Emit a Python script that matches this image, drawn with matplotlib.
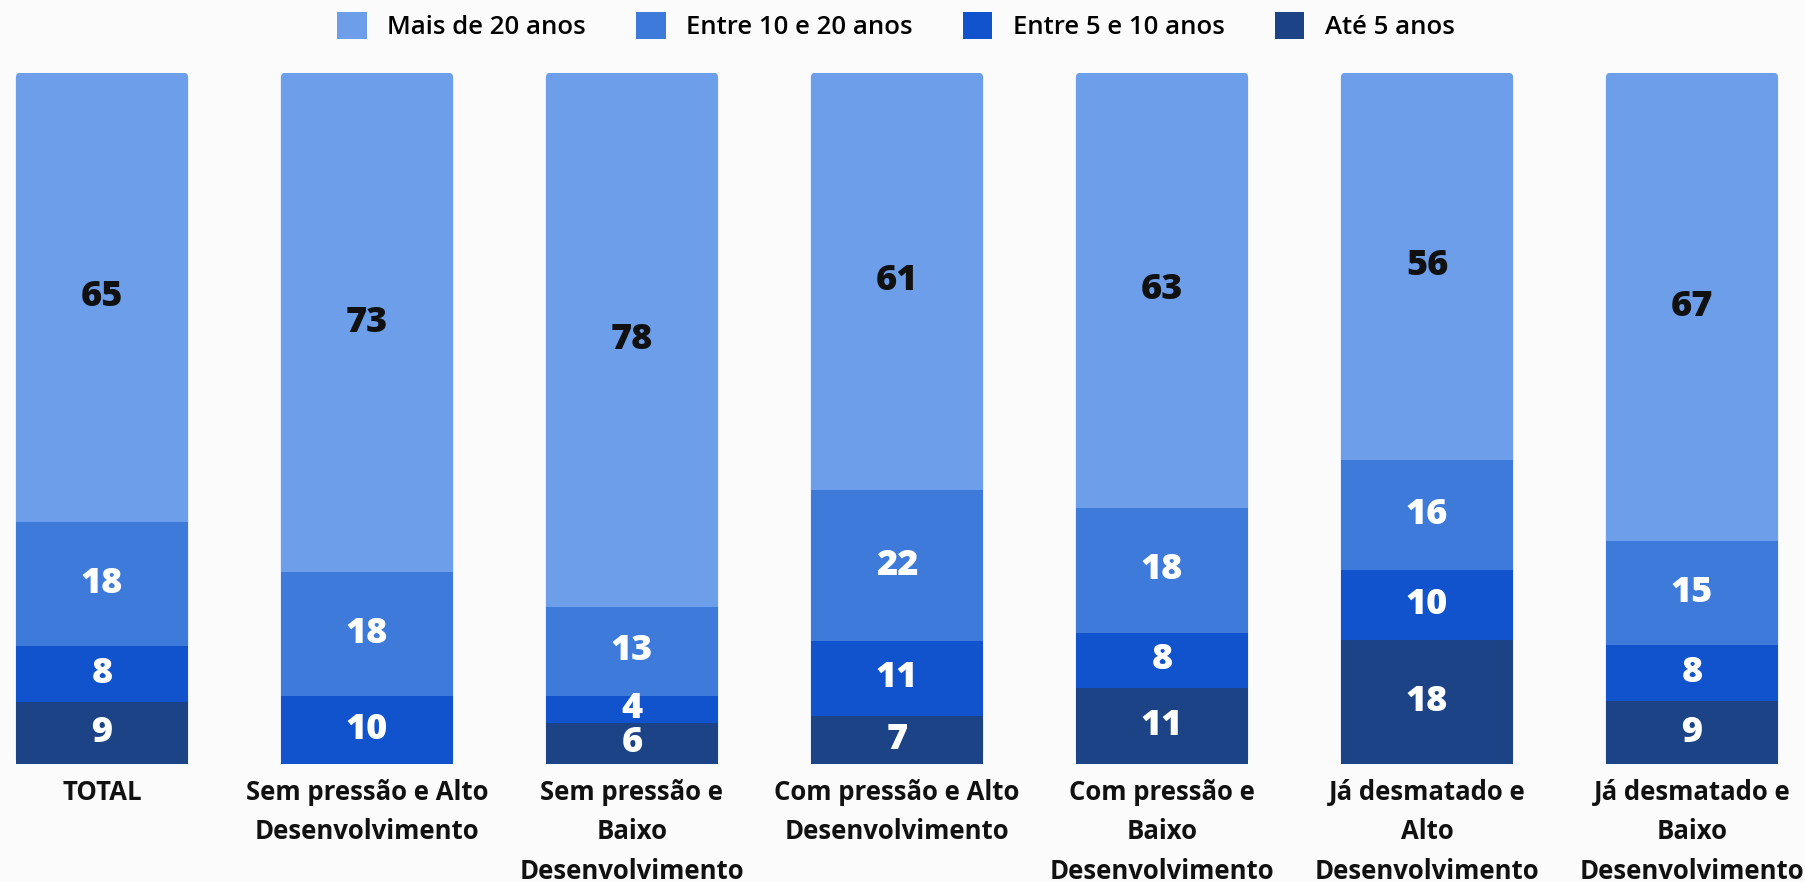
import matplotlib
matplotlib.use("Agg")
import matplotlib.pyplot as plt
import numpy as np
from matplotlib.patches import FancyBboxPatch, Patch

# ── data ────────────────────────────────────────────────────────────────
categories = [
    "TOTAL",
    "Sem pressão e Alto\nDesenvolvimento",
    "Sem pressão e\nBaixo\nDesenvolvimento",
    "Com pressão e Alto\nDesenvolvimento",
    "Com pressão e\nBaixo\nDesenvolvimento",
    "Já desmatado e\nAlto\nDesenvolvimento",
    "Já desmatado e\nBaixo\nDesenvolvimento",
]
series_names = ["Mais de 20 anos", "Entre 10 e 20 anos", "Entre 5 e 10 anos", "Até 5 anos"]
mais_20   = [65, 73, 78, 61, 63, 56, 67]
entre_10  = [18, 18, 13, 22, 18, 16, 15]
entre_5   = [8, 10, 4, 11, 8, 10, 8]
ate_5     = [9, 0, 6, 7, 11, 18, 9]

colors = ["#6c9ee9", "#3d7ad9", "#1153cc", "#1d4387"]

plt.rcParams["font.family"] = ["Open Sans", "DejaVu Sans"]

W, H = 1805, 882
bar_top, bar_bot = 72.7, 764.0
first_c, step = 102.0, 265.0

fig = plt.figure(figsize=(W / 100, H / 100), dpi=100, facecolor="#fbfbfb")
ax = fig.add_axes([0, 1 - bar_bot / H, 1, (bar_bot - bar_top) / H])
ax.set_facecolor("none")

x = np.arange(len(categories))
values = [np.array(v, dtype=float) for v in (mais_20, entre_10, entre_5, ate_5)]
totals = sum(values)

xlim = (-first_c / step, (W - first_c) / step)
ax.set_xlim(*xlim)
ax.set_ylim(0, 100)

# stack from bottom (Até 5) to top (Mais de 20), normalised to 100 %
bottom = np.zeros(len(categories))
width = 0.65
aspect = (100 / (bar_bot - bar_top)) / ((xlim[1] - xlim[0]) / W)
for idx in [3, 2, 1, 0]:
    vals = values[idx]
    share = vals / totals * 100
    bars = ax.bar(x, share, width, bottom=bottom, color=colors[idx], zorder=2)
    if idx == 0:
        # top segment gets rounded top corners; drawn behind the full stack
        for rect in bars:
            rect.set_visible(False)
            ax.add_patch(FancyBboxPatch(
                (rect.get_x(), 0), rect.get_width(), rect.get_y() + rect.get_height(),
                boxstyle="round,pad=0,rounding_size=0.018", mutation_aspect=aspect,
                facecolor=colors[idx], edgecolor="none", zorder=1))
    for xi, v, s, b in zip(x, vals, share, bottom):
        if v > 0:
            ax.text(xi, b + s / 2, f"{int(v)}", ha="center", va="center",
                    fontsize=26, fontweight="heavy",
                    color="#111111" if idx == 0 else "white", zorder=3)
    bottom += share

ax.set_xticks(x, categories)
ax.tick_params(axis="x", length=0, pad=11, labelsize=18.5)
for lab in ax.get_xticklabels():
    lab.set_fontweight("bold")
    lab.set_linespacing(1.58)
    lab.set_color("#111111")
ax.set_yticks([])
for sp in ax.spines.values():
    sp.set_visible(False)

handles = [Patch(facecolor=c, edgecolor="none") for c in colors]
fig.legend(handles, series_names, loc="center", bbox_to_anchor=(896 / W, 1 - 26 / H),
           ncol=4, frameon=False, handlelength=1.15, handleheight=1.25,
           handletextpad=0.8, columnspacing=1.95,
           prop={"weight": "semibold", "size": 18.5})

fig.savefig("out.png", dpi=100, facecolor=fig.get_facecolor())
